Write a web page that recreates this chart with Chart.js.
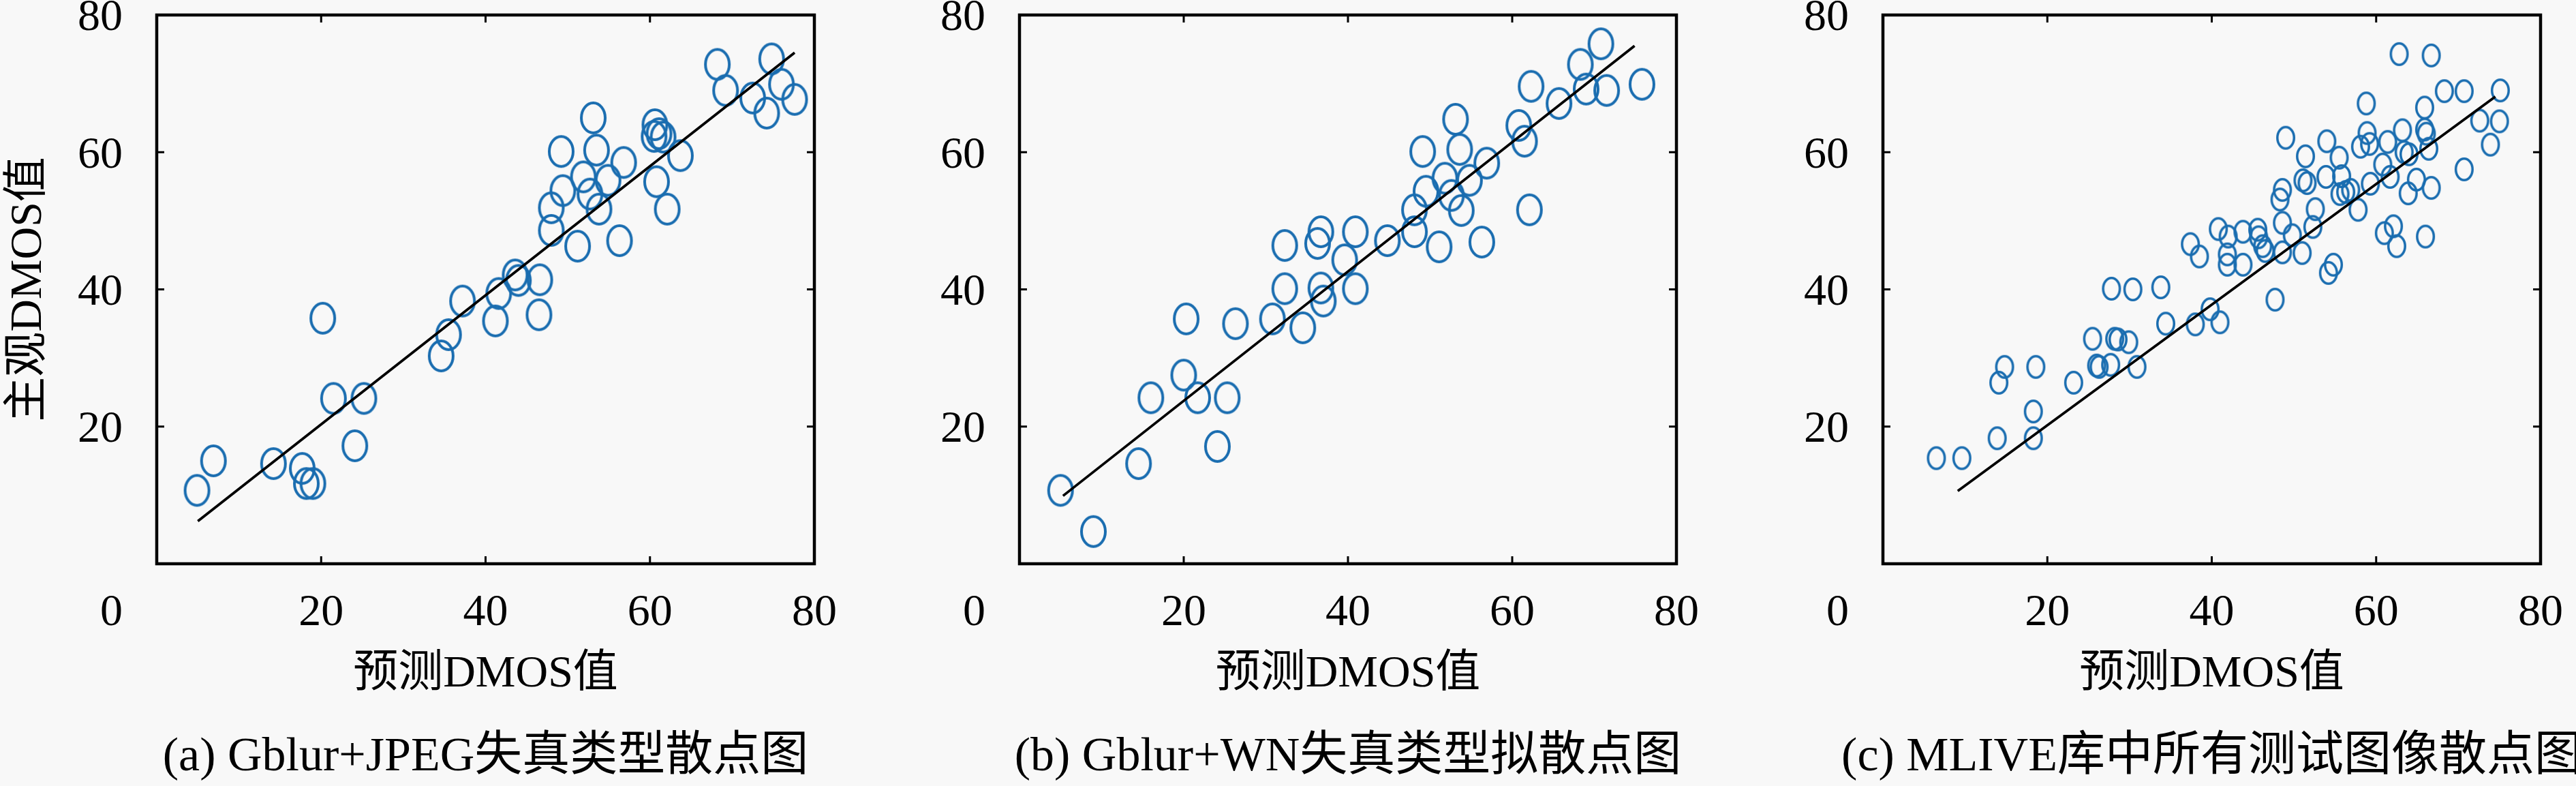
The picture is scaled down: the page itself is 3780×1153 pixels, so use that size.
<!DOCTYPE html>
<html>
<head>
<meta charset="utf-8">
<script src="https://cdn.jsdelivr.net/npm/chart.js@4/dist/chart.umd.min.js"></script>
<style>
html,body{margin:0;padding:0;background:#f8f8f8;}
#wrap{position:relative;width:3780px;height:1153px;overflow:hidden;background:#f8f8f8;}
.panel{position:absolute;top:0;width:1260px;height:1153px;}
canvas{display:block;}
</style>
</head>
<body>
<div id="wrap">
  <div class="panel" style="left:0px"><canvas id="chartA" width="1260" height="1153"></canvas></div>
  <div class="panel" style="left:1260px"><canvas id="chartB" width="1260" height="1153"></canvas></div>
  <div class="panel" style="left:2520px"><canvas id="chartC" width="1260" height="1153"></canvas></div>
</div>
<script>
// ---------- data ----------
const AXIS_MIN = 0;
const AXIS_MAX = 80;
const TICK_STEP = 20;

const X_TITLE = '预测DMOS值';
const Y_TITLE = '主观DMOS值';
const CAPTIONS = ['(a) Gblur+JPEG失真类型散点图', '(b) Gblur+WN失真类型拟散点图', '(c) MLIVE库中所有测试图像散点图'];

// (a) Gblur+JPEG
const A_PRED = [4.9, 6.9, 14.2, 17.7, 18.2, 19.0, 20.2, 21.5, 24.1, 25.2, 34.6, 35.5, 37.2, 41.2, 41.6, 43.6, 44.0, 46.5, 46.6,
  53.1, 49.2, 53.5, 56.8, 51.9, 54.9, 49.4, 52.7, 48.0, 53.8, 48.0, 51.2, 56.3, 60.6, 61.1, 61.6, 60.5, 63.7, 60.8, 62.1,
  68.2, 69.2, 72.5, 74.2, 74.8, 76.0, 77.6];
const A_SUBJ = [10.7, 15.0, 14.6, 13.9, 11.7, 11.7, 35.8, 24.1, 17.2, 24.1, 30.3, 33.4, 38.3, 35.4, 39.4, 42.1, 41.3, 36.3, 41.4,
  65.0, 60.1, 60.3, 58.5, 56.4, 55.9, 54.4, 53.9, 51.9, 51.7, 48.6, 46.3, 47.1, 64.0, 62.7, 62.2, 62.3, 59.5, 55.7, 51.7,
  72.8, 69.0, 67.9, 65.7, 73.6, 69.9, 67.7];
const A_FIT_X = [5.0, 77.6];
const A_FIT_Y = [6.2, 74.5];

// (b) Gblur+WN
const B_PRED = [5.0, 9.0, 14.5, 16.0, 20.0, 20.3, 21.7, 24.1, 25.3, 26.3, 30.8, 32.3, 32.3, 34.5, 36.7, 36.3, 36.7, 37.0,
  39.6, 40.9, 40.9, 44.8, 48.1, 48.1, 49.1, 49.5, 51.1, 51.8, 52.6, 53.1, 53.6, 53.8, 54.8, 56.3, 56.9, 60.8, 61.5, 62.1,
  62.3, 65.7, 68.3, 69.0, 70.8, 71.5, 75.8];
const B_SUBJ = [10.7, 4.7, 14.6, 24.2, 27.5, 35.7, 24.2, 17.1, 24.2, 35.0, 35.7, 46.4, 40.1, 34.4, 48.4, 46.7, 40.2, 38.3,
  44.3, 48.4, 40.1, 47.1, 51.6, 48.4, 60.1, 54.3, 46.2, 56.2, 53.7, 64.8, 60.4, 51.5, 55.9, 46.9, 58.4, 63.9, 61.6, 51.6,
  69.6, 67.1, 72.8, 69.2, 75.8, 69.0, 69.9];
const B_FIT_X = [5.3, 74.9];
const B_FIT_Y = [9.9, 75.5];

// (c) MLIVE all images
const C_PRED = [6.5, 9.6, 13.9, 18.3, 18.3, 14.1, 14.8, 18.6, 23.2, 25.5, 26.0, 26.3, 27.7, 28.2, 28.6, 29.9, 30.9, 27.8,
  30.4, 33.8, 34.4, 38.0, 39.8, 41.0, 47.7,
  62.8, 66.7, 68.3, 70.7, 75.1, 58.8, 65.9, 72.6, 75.0, 49.0, 54.0, 58.9, 58.1, 59.2, 61.4, 63.2, 65.9, 66.1, 66.4, 64.0,
  63.4, 73.9, 51.4, 55.5, 60.8, 70.7, 51.1, 51.6, 53.9, 55.8, 59.3, 61.7, 64.9, 66.7, 63.9, 55.6, 56.3, 56.9, 48.6, 48.3,
  57.8, 52.6, 48.6, 49.8, 52.3, 40.8, 42.0, 43.8, 45.6, 45.7, 46.2, 46.5, 37.4, 38.5, 41.9, 41.9, 43.8, 48.6, 51.0, 61.0,
  62.1, 62.5, 66.0, 54.8, 54.2];
const C_SUBJ = [15.4, 15.4, 18.3, 18.3, 22.2, 26.4, 28.7, 28.7, 26.4, 32.8, 28.9, 28.7, 29.0, 32.8, 32.7, 32.3, 28.7, 40.1,
  40.0, 40.3, 35.0, 34.9, 37.1, 35.2, 38.5,
  74.3, 74.1, 68.9, 68.9, 69.0, 67.1, 66.5, 64.6, 64.5, 62.1, 61.6, 62.8, 60.8, 61.2, 61.5, 63.2, 63.3, 62.7, 60.5, 59.7,
  60.0, 61.1, 59.4, 59.2, 58.2, 57.5, 55.9, 55.5, 56.4, 56.5, 55.4, 56.4, 56.0, 54.8, 54.0, 53.9, 54.2, 54.5, 54.5, 53.1,
  51.6, 51.7, 49.7, 47.9, 49.1, 48.8, 47.7, 48.4, 48.7, 47.6, 46.3, 45.6, 46.6, 44.8, 45.1, 43.6, 43.6, 45.4, 45.3, 48.2,
  49.2, 46.3, 47.7, 43.6, 42.4];
const C_FIT_X = [9.1, 74.5];
const C_FIT_Y = [10.6, 68.1];

// ---------- styling ----------
const FONT_NUM = "'Liberation Serif', 'DejaVu Serif', serif";
const FONT_TXT = "'Liberation Serif', 'Noto Sans CJK SC', serif";
const MARK_COLOR = '#1a6db0';

function ellipseMarker(w, h, lw, color) {
  const c = document.createElement('canvas');
  c.width = Math.ceil(w + lw + 4);
  c.height = Math.ceil(h + lw + 4);
  const g = c.getContext('2d');
  g.strokeStyle = color;
  g.lineWidth = lw;
  g.beginPath();
  g.ellipse(c.width / 2, c.height / 2, w / 2, h / 2, 0, 0, Math.PI * 2);
  g.stroke();
  return c;
}

const framePlugin = {
  id: 'frame',
  afterDatasetsDraw(chart, args, opts) {
    const {ctx, chartArea, scales} = chart;
    const {left, right, top, bottom} = chartArea;
    const xs = scales.x, ys = scales.y;
    ctx.save();
    ctx.strokeStyle = '#000';
    ctx.lineWidth = 3;
    const tl = 11;
    xs.ticks.forEach(t => {
      if (t.value <= AXIS_MIN || t.value >= AXIS_MAX) return;
      const p = xs.getPixelForValue(t.value);
      ctx.beginPath();
      ctx.moveTo(p, bottom); ctx.lineTo(p, bottom - tl);
      ctx.moveTo(p, top); ctx.lineTo(p, top + tl);
      ctx.stroke();
    });
    ys.ticks.forEach(t => {
      if (t.value <= AXIS_MIN || t.value >= AXIS_MAX) return;
      const p = ys.getPixelForValue(t.value);
      ctx.beginPath();
      ctx.moveTo(left, p); ctx.lineTo(left + tl, p);
      ctx.moveTo(right, p); ctx.lineTo(right - tl, p);
      ctx.stroke();
    });
    ctx.lineWidth = 4.5;
    ctx.strokeRect(left, top, right - left, bottom - top);
    // origin label
    ctx.fillStyle = '#000';
    ctx.font = '66px ' + FONT_NUM;
    ctx.textAlign = 'right';
    ctx.textBaseline = 'middle';
    ctx.fillText(String(AXIS_MIN), left - 50, bottom + 33 + 39.6);
    // caption
    ctx.font = '70px ' + FONT_TXT;
    ctx.textAlign = 'center';
    ctx.fillText(opts.caption, (left + right) / 2, 1112);
    ctx.restore();
  }
};

function makeChart(id, cfg) {
  const pts = cfg.px.map((x, i) => ({x: x, y: cfg.py[i]}));
  const fit = cfg.lx.map((x, i) => ({x: x, y: cfg.ly[i]}));
  return new Chart(document.getElementById(id), {
    type: 'scatter',
    data: {
      datasets: [
        {data: fit, showLine: true, borderColor: '#000', borderWidth: 3.8, pointRadius: 0, fill: false, tension: 0},
        {data: pts, pointStyle: cfg.marker, pointRadius: 20, borderWidth: 0, backgroundColor: 'rgba(0,0,0,0)'}
      ]
    },
    options: {
      responsive: false,
      animation: false,
      devicePixelRatio: 1,
      layout: {padding: {top: 22, right: cfg.padRight, bottom: 0, left: 0}},
      plugins: {
        legend: {display: false},
        tooltip: {enabled: false},
        title: {display: false},
        frame: {caption: cfg.caption}
      },
      scales: {
        x: {
          type: 'linear', min: AXIS_MIN, max: AXIS_MAX, position: 'bottom',
          ticks: {
            stepSize: TICK_STEP, autoSkip: false, maxRotation: 0,
            callback: v => (v === AXIS_MIN ? '' : String(v)),
            font: {family: FONT_NUM, size: 66}, color: '#000', padding: 33
          },
          grid: {display: false, drawTicks: false},
          border: {display: false},
          title: {display: true, text: X_TITLE, color: '#000', font: {family: FONT_TXT, size: 66}, padding: {top: 0, bottom: 124}},
          afterFit: s => { s.height = 326; s.paddingLeft = 0; s.paddingRight = 0; }
        },
        y: {
          type: 'linear', min: AXIS_MIN, max: AXIS_MAX, position: 'left',
          ticks: {
            stepSize: TICK_STEP, autoSkip: false, labelOffset: 5,
            callback: v => (v === AXIS_MIN ? '' : String(v)),
            font: {family: FONT_NUM, size: 66}, color: '#000', padding: 50
          },
          grid: {display: false, drawTicks: false},
          border: {display: false},
          title: cfg.yTitle
            ? {display: true, text: Y_TITLE, color: '#000', font: {family: FONT_TXT, size: 66}, padding: {top: 3, bottom: 0}}
            : {display: false},
          afterFit: s => { s.width = cfg.yWidth; s.paddingTop = 0; s.paddingBottom = 0; }
        }
      }
    },
    plugins: [framePlugin]
  });
}

const bigMarker = ellipseMarker(35, 44, 4, MARK_COLOR);
const smallMarker = ellipseMarker(24.5, 31.5, 3.5, MARK_COLOR);

makeChart('chartA', {px: A_PRED, py: A_SUBJ, lx: A_FIT_X, ly: A_FIT_Y, marker: bigMarker, yWidth: 230, padRight: 65, yTitle: true, caption: CAPTIONS[0]});
makeChart('chartB', {px: B_PRED, py: B_SUBJ, lx: B_FIT_X, ly: B_FIT_Y, marker: bigMarker, yWidth: 236, padRight: 60, yTitle: false, caption: CAPTIONS[1]});
makeChart('chartC', {px: C_PRED, py: C_SUBJ, lx: C_FIT_X, ly: C_FIT_Y, marker: smallMarker, yWidth: 243, padRight: 52, yTitle: false, caption: CAPTIONS[2]});
</script>
</body>
</html>
